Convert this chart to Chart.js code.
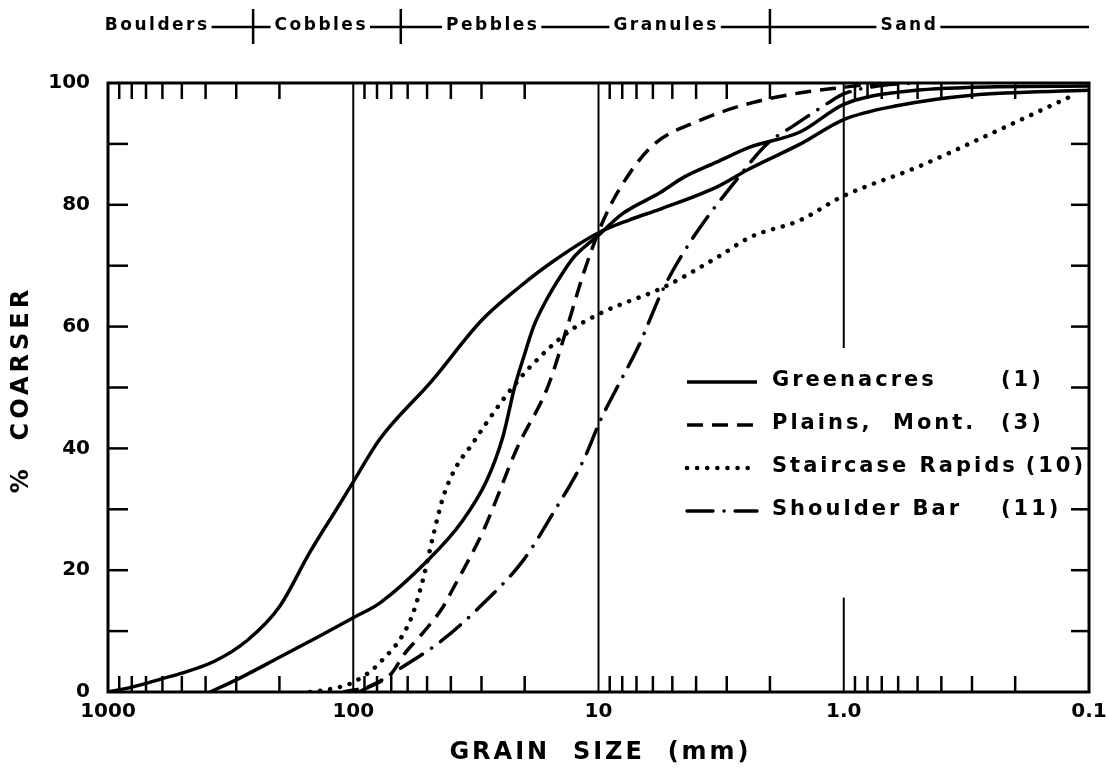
<!DOCTYPE html>
<html lang="en">
<head>
<meta charset="utf-8">
<title>Grain size distribution</title>
<script src="https://cdn.jsdelivr.net/npm/chart.js@4.4.1/dist/chart.umd.min.js"></script>
<style>
  html, body { margin: 0; padding: 0; background: #fff; }
  #wrap { width: 1106px; height: 772px; }
</style>
</head>
<body>
<div id="wrap"><canvas id="grainChart" width="1106" height="772"></canvas></div>
<script>
// grain size (mm) vs % coarser

const greenacresSize = [1000, 800, 600, 500, 370, 270, 200, 150, 115, 100, 78, 48, 30, 21, 15.7, 10, 7.5, 5.6, 3.3, 2.4, 1.5, 1.0, 0.6, 0.3, 0.1];
const greenacresPct  = [0, 0.8, 2.2, 3.1, 5, 8.5, 14, 23, 30.5, 34.5, 41.5, 51, 61, 66.5, 70.4, 75.4, 77.5, 79.3, 82.9, 86, 90, 94, 96.3, 98, 98.8];

// second solid curve, not named in the legend
const solid2Size = [384, 300, 200, 140, 100, 78, 50, 36, 28.5, 24.5, 22, 20, 18.4, 16.5, 14, 12.6, 10, 8, 5.6, 4.5, 3.3, 2.4, 1.5, 1.0, 0.6, 0.3, 0.1];
const solid2Pct  = [0, 2, 5.7, 9, 12.2, 14.6, 21.5, 28, 34.8, 42, 50, 55.5, 60, 64, 68.8, 71.4, 75, 78.5, 82, 84.5, 87, 89.5, 92, 96.5, 98.5, 99.3, 99.5];

const plainsSize = [110, 85, 70, 62, 52, 43, 40, 29.4, 21.4, 16.1, 13.4, 11.5, 9.8, 8.4, 6.1, 3.84, 2.4, 1.5, 1.0, 0.7];
const plainsPct  = [0, 1, 3, 6.2, 9.7, 14, 16.3, 26.6, 40.2, 50.1, 60, 68.8, 76.4, 81.9, 89.5, 93.9, 96.7, 98.4, 99.3, 100];

const staircaseSize = [150, 120, 100, 78, 58.5, 52, 47, 43, 38, 33, 29.4, 24, 21.4, 19.5, 13.4, 9.8, 5.4, 3.27, 2.4, 1.5, 1.02, 0.5, 0.27, 0.12];
const staircasePct  = [0, 0.6, 1.6, 4.8, 11.8, 18.4, 26, 32, 37, 40.5, 43.5, 48.5, 51, 52.9, 59, 62.2, 66.5, 71.4, 74.7, 77.5, 81.3, 86.2, 91.1, 97.7];

const shoulderSize = [95, 80, 66, 43.4, 29.4, 20.2, 15.3, 11.5, 9.8, 8.1, 6.9, 5.4, 4.1, 2.8, 2.04, 1.6, 1.16, 1.0, 0.7, 0.5];
const shoulderPct  = [0, 1.5, 3.6, 8.5, 14.6, 21.7, 29.4, 38.1, 44.7, 51.2, 56.6, 66.5, 74.7, 83.6, 90.1, 93, 96.7, 98.2, 99.6, 100];

// axes
const xTickValues = [1000, 100, 10, 1, 0.1];
const xTickLabels = ["1000", "100", "10", "1.0", "0.1"];
const xDecades = [100, 10, 1, 0.1];          // minor ticks at 2..9 x decade
const yTickLabels = [0, 20, 40, 60, 80, 100];

// size classes along the top
const sizeClasses = ["Boulders", "Cobbles", "Pebbles", "Granules", "Sand"];
const classLabelAt = [630, 135, 27, 5.3, 0.54]; // mm
const classBreaks = [256, 64, 2];               // mm

// legend
const legendNames = ["Greenacres", "Plains,  Mont.", "Staircase Rapids", "Shoulder Bar"];
const legendNums = ["(1)", "(3)", "(10)", "(11)"];

const FONT = '"DejaVu Sans", "Liberation Sans", sans-serif';

function pts(sizes, pcts) {
  return sizes.map((s, i) => ({ x: s, y: pcts[i] }));
}

const common = {
  borderColor: "#000",
  borderWidth: 3.5,
  pointRadius: 0,
  fill: false,
  cubicInterpolationMode: "monotone"
};

const styles = {
  solid:   { borderDash: [], borderCapStyle: "butt", borderWidth: 3.5 },
  dashed:  { borderDash: [16, 9], borderCapStyle: "butt", borderWidth: 3.5 },
  dotted:  { borderDash: [0.1, 10], borderCapStyle: "round", borderWidth: 4.5 },
  dashdot: { borderDash: [26, 11, 0.1, 11], borderCapStyle: "round", borderWidth: 3.5 }
};

const datasets = [
  Object.assign({ label: "Greenacres (1)", data: pts(greenacresSize, greenacresPct) }, common, styles.solid),
  Object.assign({ label: "", data: pts(solid2Size, solid2Pct) }, common, styles.solid),
  Object.assign({ label: "Plains, Mont. (3)", data: pts(plainsSize, plainsPct) }, common, styles.dashed),
  Object.assign({ label: "Staircase Rapids (10)", data: pts(staircaseSize, staircasePct) }, common, styles.dotted),
  Object.assign({ label: "Shoulder Bar (11)", data: pts(shoulderSize, shoulderPct) }, common, styles.dashdot)
];
const legendStyles = [styles.solid, styles.dashed, styles.dotted, styles.dashdot];

function line(ctx, x1, y1, x2, y2) {
  ctx.beginPath();
  ctx.moveTo(x1, y1);
  ctx.lineTo(x2, y2);
  ctx.stroke();
}

// frame, inward ticks, verticals, legend, class bar, axis titles
const paper = {
  id: "paper",
  beforeDatasetsDraw(chart) {
    const { ctx, chartArea: a, scales: { x, y } } = chart;
    ctx.save();
    ctx.strokeStyle = "#000";
    ctx.lineWidth = 2;
    [100, 10].forEach(v => {
      const px = x.getPixelForValue(v);
      line(ctx, px, a.top, px, a.bottom);
    });
    // 1.0 line is broken where the legend sits
    const p1 = x.getPixelForValue(1);
    line(ctx, p1, a.top, p1, y.getPixelForValue(56.5));
    line(ctx, p1, y.getPixelForValue(15.5), p1, a.bottom);
    ctx.restore();
  },
  afterDraw(chart) {
    const { ctx, chartArea: a, scales: { x, y } } = chart;
    ctx.save();
    ctx.strokeStyle = "#000";
    ctx.fillStyle = "#000";

    // minor x ticks, top and bottom
    ctx.lineWidth = 2.5;
    xDecades.forEach(d => {
      for (let k = 2; k <= 9; k++) {
        const px = x.getPixelForValue(k * d);
        line(ctx, px, a.bottom, px, a.bottom - 16);
        line(ctx, px, a.top, px, a.top + 16);
      }
    });
    // y ticks every 10, both sides
    for (let v = 10; v < 100; v += 10) {
      const py = y.getPixelForValue(v);
      line(ctx, a.left, py, a.left + 20, py);
      line(ctx, a.right - 18, py, a.right, py);
    }
    // frame
    ctx.lineWidth = 3;
    ctx.strokeRect(a.left, a.top, a.right - a.left, a.bottom - a.top);

    // legend
    const legX1 = 687, legX2 = 757, legText = 772, numCol = 1001;
    const legY = [381, 424, 467, 510];
    ctx.font = "bold 21px " + FONT;
    ctx.letterSpacing = "3px";
    ctx.textAlign = "left";
    ctx.textBaseline = "middle";
    legendNames.forEach((name, i) => {
      const st = legendStyles[i];
      ctx.save();
      ctx.lineWidth = st.borderWidth;
      ctx.lineCap = st.borderCapStyle;
      ctx.setLineDash(st.borderDash);
      line(ctx, legX1, legY[i] + 1, legX2, legY[i] + 1);
      ctx.restore();
      ctx.fillText(name, legText, legY[i]);
      const w = ctx.measureText(name).width;
      ctx.fillText(legendNums[i], Math.max(numCol, legText + w + 8), legY[i]);
    });

    // size classes across the top
    const hy = 26;
    ctx.font = "bold 17px " + FONT;
    ctx.letterSpacing = "2.5px";
    ctx.textAlign = "center";
    const spans = sizeClasses.map((t, i) => {
      const cx = x.getPixelForValue(classLabelAt[i]);
      const w = ctx.measureText(t).width;
      ctx.fillText(t, cx, hy);
      return [cx - w / 2, cx + w / 2];
    });
    ctx.lineWidth = 2.5;
    spans.forEach((s, i) => {
      const end = i + 1 < spans.length ? spans[i + 1][0] - 4 : a.right;
      line(ctx, s[1] + 2, hy + 1, end, hy + 1);
    });
    classBreaks.forEach(v => {
      const px = x.getPixelForValue(v);
      line(ctx, px, 9, px, 44);
    });

    // axis titles
    ctx.font = "bold 24px " + FONT;
    ctx.letterSpacing = "3px";
    ctx.textAlign = "center";
    ctx.fillText("GRAIN  SIZE  (mm)", (a.left + a.right) / 2 + 2, 753);
    ctx.save();
    ctx.translate(22, (a.top + a.bottom) / 2 + 2);
    ctx.rotate(-Math.PI / 2);
    ctx.letterSpacing = "4px";
    ctx.fillText("%  COARSER", 0, 0);
    ctx.restore();

    ctx.restore();
  }
};

const tickFont = { family: FONT, weight: "bold", size: 20 };

new Chart(document.getElementById("grainChart"), {
  type: "line",
  data: { datasets },
  plugins: [paper],
  options: {
    responsive: false,
    animation: false,
    layout: { padding: { top: 83, right: 17, bottom: 0, left: 0 } },
    plugins: { legend: { display: false }, tooltip: { enabled: false } },
    scales: {
      x: {
        type: "logarithmic",
        reverse: true,
        min: 0.1,
        max: 1000,
        grid: { display: false, drawTicks: false },
        border: { display: false },
        afterBuildTicks: s => { s.ticks = xTickValues.map(v => ({ value: v })); },
        afterFit: s => { s.height = 80; s.paddingLeft = 0; s.paddingRight = 0; },
        ticks: {
          autoSkip: false,
          maxRotation: 0,
          padding: 8,
          color: "#000",
          font: tickFont,
          callback: (v, i) => xTickLabels[i]
        }
      },
      y: {
        min: 0,
        max: 100,
        grid: { display: false, drawTicks: false },
        border: { display: false },
        afterFit: s => { s.width = 108; s.paddingTop = 0; s.paddingBottom = 0; },
        ticks: {
          stepSize: 20,
          padding: 18,
          color: "#000",
          font: tickFont,
          callback: v => (yTickLabels.includes(v) ? v : "")
        }
      }
    }
  }
});
</script>
</body>
</html>
